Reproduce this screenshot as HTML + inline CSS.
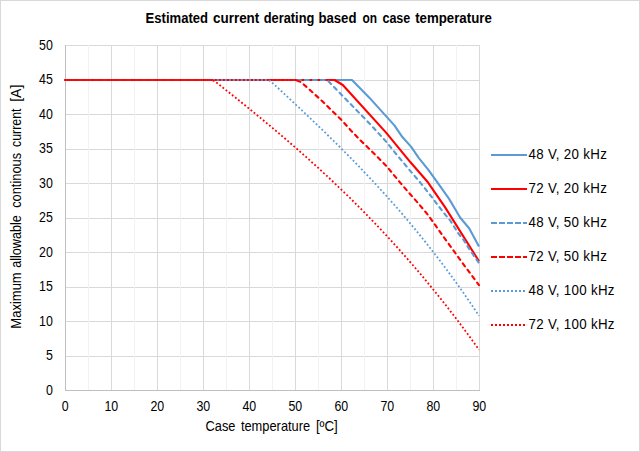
<!DOCTYPE html><html><head><meta charset="utf-8"><style>html,body{margin:0;padding:0;background:#fff}svg{display:block}text{font-family:"Liberation Sans",sans-serif;font-size:13.33px;fill:#000}</style></head><body>
<svg width="640" height="452" viewBox="0 0 640 452">
<rect x="0" y="0" width="640" height="452" fill="#fff"/>
<rect x="0.5" y="0.5" width="639" height="451" fill="none" stroke="#d9d9d9" stroke-width="1"/>
<line x1="65" y1="45.5" x2="480" y2="45.5" stroke="#d9d9d9"/>
<line x1="65" y1="80.5" x2="480" y2="80.5" stroke="#d9d9d9"/>
<line x1="65" y1="114.5" x2="480" y2="114.5" stroke="#d9d9d9"/>
<line x1="65" y1="149.5" x2="480" y2="149.5" stroke="#d9d9d9"/>
<line x1="65" y1="183.5" x2="480" y2="183.5" stroke="#d9d9d9"/>
<line x1="65" y1="218.5" x2="480" y2="218.5" stroke="#d9d9d9"/>
<line x1="65" y1="252.5" x2="480" y2="252.5" stroke="#d9d9d9"/>
<line x1="65" y1="287.5" x2="480" y2="287.5" stroke="#d9d9d9"/>
<line x1="65" y1="321.5" x2="480" y2="321.5" stroke="#d9d9d9"/>
<line x1="65" y1="356.5" x2="480" y2="356.5" stroke="#d9d9d9"/>
<line x1="88.5" y1="45" x2="88.5" y2="390" stroke="#f2f2f2"/>
<line x1="134.5" y1="45" x2="134.5" y2="390" stroke="#f2f2f2"/>
<line x1="180.5" y1="45" x2="180.5" y2="390" stroke="#f2f2f2"/>
<line x1="226.5" y1="45" x2="226.5" y2="390" stroke="#f2f2f2"/>
<line x1="272.5" y1="45" x2="272.5" y2="390" stroke="#f2f2f2"/>
<line x1="318.5" y1="45" x2="318.5" y2="390" stroke="#f2f2f2"/>
<line x1="364.5" y1="45" x2="364.5" y2="390" stroke="#f2f2f2"/>
<line x1="410.5" y1="45" x2="410.5" y2="390" stroke="#f2f2f2"/>
<line x1="456.5" y1="45" x2="456.5" y2="390" stroke="#f2f2f2"/>
<line x1="111.5" y1="45" x2="111.5" y2="390" stroke="#d9d9d9"/>
<line x1="157.5" y1="45" x2="157.5" y2="390" stroke="#d9d9d9"/>
<line x1="203.5" y1="45" x2="203.5" y2="390" stroke="#d9d9d9"/>
<line x1="249.5" y1="45" x2="249.5" y2="390" stroke="#d9d9d9"/>
<line x1="295.5" y1="45" x2="295.5" y2="390" stroke="#d9d9d9"/>
<line x1="341.5" y1="45" x2="341.5" y2="390" stroke="#d9d9d9"/>
<line x1="387.5" y1="45" x2="387.5" y2="390" stroke="#d9d9d9"/>
<line x1="433.5" y1="45" x2="433.5" y2="390" stroke="#d9d9d9"/>
<line x1="479.5" y1="45" x2="479.5" y2="390" stroke="#d9d9d9"/>
<line x1="65.5" y1="45" x2="65.5" y2="391" stroke="#bfbfbf"/>
<line x1="65" y1="390.5" x2="480" y2="390.5" stroke="#bfbfbf"/>
<polyline points="65.0,80.0 352.0,80.0 369.1,97.4 394.4,125.4 402.2,136.8 411.4,147.1 418.7,157.8 428.4,169.9 439.0,184.7 449.1,198.9 460.1,217.5 469.3,228.5 479.0,246.5" fill="none" stroke="#5b9bd5" stroke-linejoin="round" stroke-width="2.1"/>
<polyline points="65.0,80.0 334.6,80.0 342.8,85.0 386.1,132.6 410.5,162.3 427.9,182.3 445.0,207.1 479.0,261.3" fill="none" stroke="#ff0000" stroke-linejoin="round" stroke-width="2.1"/>
<polyline points="65.0,80.0 327.2,80.0 370.0,124.0 386.1,141.6 396.7,154.7 412.3,173.3 420.1,182.3 432.1,197.5 443.6,212.7 450.5,220.9 458.3,233.4 463.4,239.6 469.8,249.9 479.0,263.0" fill="none" stroke="#5b9bd5" stroke-linejoin="round" stroke-width="2.1" stroke-dasharray="3.7 4.3" stroke-linecap="round"/>
<polyline points="65.0,80.0 295.9,80.0 301.4,82.3 321.2,100.2 341.0,119.5 350.7,130.2 359.9,139.9 370.0,149.5 386.5,166.1 399.9,182.3 410.0,194.0 417.4,202.3 428.4,215.4 434.8,224.4 444.5,238.2 455.1,252.7 466.1,267.9 479.0,285.1" fill="none" stroke="#ff0000" stroke-linejoin="round" stroke-width="2.1" stroke-dasharray="3.7 4.3" stroke-linecap="round"/>
<polyline points="65.0,80.0 268.8,80.0 272.0,82.5 276.6,86.7 281.2,91.0 285.8,95.3 290.4,99.6 295.0,103.9 299.6,108.2 304.2,112.5 308.8,116.9 313.4,121.3 318.0,125.7 322.6,130.1 327.2,134.6 331.8,139.1 336.4,143.6 341.0,148.2 345.6,152.8 350.2,157.5 354.8,162.2 359.4,166.9 364.0,171.8 368.6,176.6 373.2,181.5 377.8,186.5 382.4,191.5 387.0,196.6 391.6,201.8 396.2,207.0 400.8,212.3 405.4,217.7 410.0,223.2 414.6,228.7 419.2,234.3 423.8,240.0 428.4,245.8 433.0,251.7 437.6,257.6 442.2,263.7 446.8,269.8 451.4,276.1 456.0,282.4 460.6,288.9 465.2,295.4 469.8,302.1 474.4,308.9 479.0,315.7" fill="none" stroke="#5b9bd5" stroke-linejoin="round" stroke-width="1.8" stroke-dasharray="1.8 2.2"/>
<polyline points="65.0,80.0 212.7,80.0 216.8,82.8 221.4,86.4 226.0,90.1 230.6,93.7 235.2,97.4 239.8,101.1 244.4,104.8 249.0,108.5 253.6,112.3 258.2,116.1 262.8,119.9 267.4,123.7 272.0,127.5 276.6,131.4 281.2,135.3 285.8,139.2 290.4,143.2 295.0,147.2 299.6,151.2 304.2,155.3 308.8,159.4 313.4,163.6 318.0,167.7 322.6,172.0 327.2,176.2 331.8,180.5 336.4,184.9 341.0,189.3 345.6,193.7 350.2,198.2 354.8,202.8 359.4,207.4 364.0,212.0 368.6,216.8 373.2,221.5 377.8,226.3 382.4,231.2 387.0,236.2 391.6,241.2 396.2,246.2 400.8,251.4 405.4,256.6 410.0,261.8 414.6,267.1 419.2,272.5 423.8,278.0 428.4,283.6 433.0,289.2 437.6,294.9 442.2,300.6 446.8,306.5 451.4,312.4 456.0,318.4 460.6,324.5 465.2,330.7 469.8,336.9 474.4,343.3 479.0,349.7" fill="none" stroke="#ff0000" stroke-linejoin="round" stroke-width="1.8" stroke-dasharray="1.8 2.2"/>
<text transform="translate(52.8,394.5) scale(0.93,1.06)" text-anchor="end">0</text>
<text transform="translate(52.8,360.0) scale(0.93,1.06)" text-anchor="end">5</text>
<text transform="translate(52.8,325.5) scale(0.93,1.06)" text-anchor="end">10</text>
<text transform="translate(52.8,291.0) scale(0.93,1.06)" text-anchor="end">15</text>
<text transform="translate(52.8,256.5) scale(0.93,1.06)" text-anchor="end">20</text>
<text transform="translate(52.8,222.0) scale(0.93,1.06)" text-anchor="end">25</text>
<text transform="translate(52.8,187.5) scale(0.93,1.06)" text-anchor="end">30</text>
<text transform="translate(52.8,153.0) scale(0.93,1.06)" text-anchor="end">35</text>
<text transform="translate(52.8,118.5) scale(0.93,1.06)" text-anchor="end">40</text>
<text transform="translate(52.8,84.0) scale(0.93,1.06)" text-anchor="end">45</text>
<text transform="translate(52.8,49.5) scale(0.93,1.06)" text-anchor="end">50</text>
<text transform="translate(65.3,410.8) scale(0.93,1.06)" text-anchor="middle">0</text>
<text transform="translate(111.3,410.8) scale(0.93,1.06)" text-anchor="middle">10</text>
<text transform="translate(157.3,410.8) scale(0.93,1.06)" text-anchor="middle">20</text>
<text transform="translate(203.3,410.8) scale(0.93,1.06)" text-anchor="middle">30</text>
<text transform="translate(249.3,410.8) scale(0.93,1.06)" text-anchor="middle">40</text>
<text transform="translate(295.3,410.8) scale(0.93,1.06)" text-anchor="middle">50</text>
<text transform="translate(341.3,410.8) scale(0.93,1.06)" text-anchor="middle">60</text>
<text transform="translate(387.3,410.8) scale(0.93,1.06)" text-anchor="middle">70</text>
<text transform="translate(433.3,410.8) scale(0.93,1.06)" text-anchor="middle">80</text>
<text transform="translate(479.3,410.8) scale(0.93,1.06)" text-anchor="middle">90</text>
<text transform="translate(145.62,22.8) scale(0.9790,1.06)" font-weight="bold">Estimated</text>
<text transform="translate(213.00,22.8) scale(1.0087,1.06)" font-weight="bold">current</text>
<text transform="translate(263.64,22.8) scale(0.9647,1.06)" font-weight="bold">derating</text>
<text transform="translate(318.41,22.8) scale(0.9892,1.06)" font-weight="bold">based</text>
<text transform="translate(362.60,22.8) scale(0.8937,1.06)" font-weight="bold">on</text>
<text transform="translate(382.40,22.8) scale(0.9414,1.06)" font-weight="bold">case</text>
<text transform="translate(415.20,22.8) scale(0.9948,1.06)" font-weight="bold">temperature</text>
<text transform="translate(205.54,430.8) scale(0.9600,1.06)">Case</text>
<text transform="translate(240.90,430.8) scale(0.9648,1.06)">temperature</text>
<text transform="translate(315.90,430.8) scale(1.0000,1.06)">[ºC]</text>
<text transform="translate(21.4,328.68) rotate(-90) scale(0.9768,1.06)">Maximum</text>
<text transform="translate(21.4,267.80) rotate(-90) scale(0.9472,1.06)">allowable</text>
<text transform="translate(21.4,207.87) rotate(-90) scale(0.9661,1.06)">continous</text>
<text transform="translate(21.4,146.93) rotate(-90) scale(0.9268,1.06)">current</text>
<text transform="translate(21.4,101.80) rotate(-90) scale(1.0536,1.06)">[A]</text>
<line x1="491" y1="155" x2="527" y2="155" stroke="#5b9bd5" stroke-width="2"/>
<text transform="translate(528.5,158.8) scale(1,1.06)" style="letter-spacing:0.3px">48 V, 20 kHz</text>
<line x1="491" y1="189" x2="527" y2="189" stroke="#ff0000" stroke-width="2"/>
<text transform="translate(528.5,192.8) scale(1,1.06)" style="letter-spacing:0.3px">72 V, 20 kHz</text>
<line x1="491" y1="223" x2="527" y2="223" stroke="#5b9bd5" stroke-width="2" stroke-dasharray="6 2"/>
<text transform="translate(528.5,226.8) scale(1,1.06)" style="letter-spacing:0.3px">48 V, 50 kHz</text>
<line x1="491" y1="257" x2="527" y2="257" stroke="#ff0000" stroke-width="2" stroke-dasharray="6 2"/>
<text transform="translate(528.5,260.8) scale(1,1.06)" style="letter-spacing:0.3px">72 V, 50 kHz</text>
<line x1="491" y1="291" x2="526" y2="291" stroke="#5b9bd5" stroke-width="2" stroke-dasharray="2 2"/>
<text transform="translate(528.5,294.8) scale(1,1.06)" style="letter-spacing:0.3px">48 V, 100 kHz</text>
<line x1="491" y1="325" x2="526" y2="325" stroke="#ff0000" stroke-width="2" stroke-dasharray="2 2"/>
<text transform="translate(528.5,328.8) scale(1,1.06)" style="letter-spacing:0.3px">72 V, 100 kHz</text>
</svg></body></html>
